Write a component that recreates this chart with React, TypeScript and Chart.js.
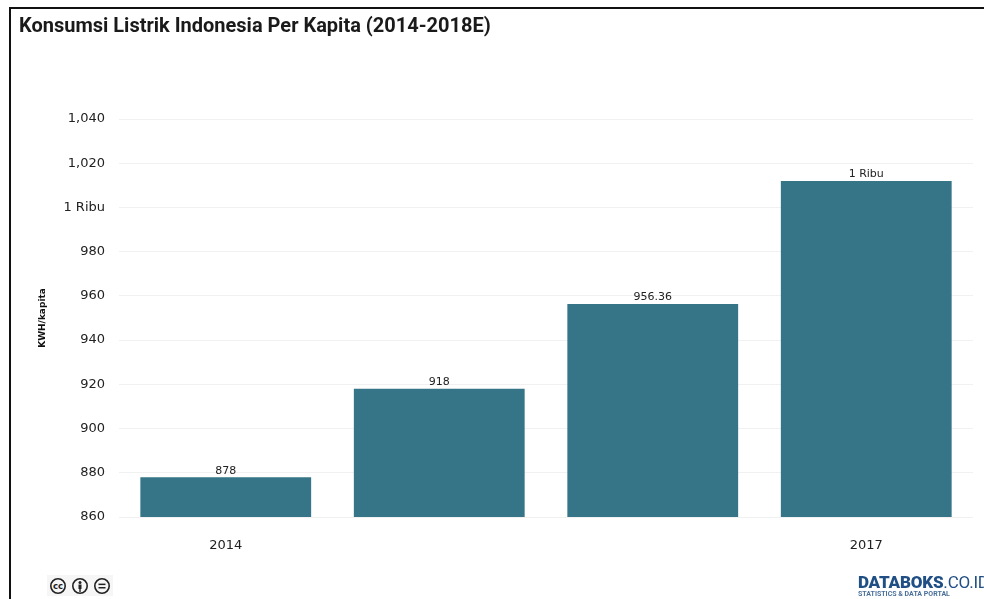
import React, { useEffect, useRef } from "react";
import { Chart, registerables } from "chart.js";

Chart.register(...registerables);

const chartTitle = "Konsumsi Listrik Indonesia Per Kapita (2014-2018E)";
const axisTitle = "KWH/kapita";
const categories = ["2014", "2015", "2016", "2017"];
const visibleCategories = ["2014", "2017"];
const consumption = [878, 918, 956.36, 1012];
const valueLabels = ["878", "918", "956.36", "1 Ribu"];
const yTickValues = [860, 880, 900, 920, 940, 960, 980, 1000, 1020, 1040];
const yTickLabels = ["860", "880", "900", "920", "940", "960", "980", "1 Ribu", "1,020", "1,040"];

const BODY_FONT = "'DejaVu Sans', sans-serif";

// Writes the formatted value just above each bar.
const barValueLabels = {
  id: "barValueLabels",
  afterDatasetsDraw(chart: Chart) {
    const { ctx } = chart;
    ctx.save();
    ctx.font = `11px ${BODY_FONT}`;
    ctx.fillStyle = "#222222";
    ctx.textAlign = "center";
    ctx.textBaseline = "bottom";
    chart.getDatasetMeta(0).data.forEach((bar, i) => {
      ctx.fillText(valueLabels[i], bar.x, bar.y - 1);
    });
    ctx.restore();
  },
};

function CreativeCommonsBadge() {
  const glyph = { fill: "none", stroke: "#222", strokeWidth: 1.6 };
  return (
    <svg
      width={66}
      height={21}
      style={{ position: "absolute", left: 47, top: 575, background: "#f6f6f6" }}
    >
      <circle cx={11} cy={11} r={7.2} {...glyph} />
      <text x={11} y={14} textAnchor="middle" fontSize={8.5} fontWeight={700} fontFamily={BODY_FONT} fill="#222">
        cc
      </text>
      <circle cx={33} cy={11} r={7.2} {...glyph} />
      <circle cx={33} cy={7.5} r={1.5} fill="#222" />
      <rect x={31.5} y={9.5} width={3} height={4.5} fill="#222" />
      <rect x={32.3} y={13.5} width={1.4} height={3.5} fill="#222" />
      <circle cx={55} cy={11} r={7.2} {...glyph} />
      <rect x={51.5} y={8.6} width={7} height={1.5} fill="#222" />
      <rect x={51.5} y={12} width={7} height={1.5} fill="#222" />
    </svg>
  );
}

function PublisherMark() {
  return (
    <div style={{ position: "absolute", left: 858, top: 573, width: 126, height: 26, overflow: "hidden", whiteSpace: "nowrap" }}>
      <div style={{ fontFamily: "Roboto, sans-serif", fontSize: 17, lineHeight: "18px", color: "#1f4f85", letterSpacing: -0.2 }}>
        <span style={{ fontWeight: 900 }}>DATABOKS</span>
        <span style={{ fontWeight: 400 }}>.CO.ID</span>
      </div>
      <div style={{ fontFamily: "Roboto, sans-serif", fontSize: 7, lineHeight: "7px", fontWeight: 700, color: "#4a6f9a" }}>
        STATISTICS &amp; DATA PORTAL
      </div>
    </div>
  );
}

export default function App() {
  const canvasRef = useRef<HTMLCanvasElement | null>(null);

  useEffect(() => {
    document.body.style.margin = "0";
    const chart = new Chart(canvasRef.current!, {
      type: "bar",
      data: {
        labels: categories,
        datasets: [
          {
            data: consumption,
            backgroundColor: "#357587",
            borderWidth: 0,
            barPercentage: 0.8,
            categoryPercentage: 1,
          },
        ],
      },
      options: {
        responsive: false,
        animation: false,
        layout: { padding: { left: 19, right: 11, top: 8, bottom: 0 } },
        plugins: {
          legend: { display: false },
          tooltip: { enabled: false },
          title: {
            display: true,
            text: chartTitle,
            align: "start",
            color: "#1a1a1a",
            font: { family: "Roboto, sans-serif", size: 20, weight: "bold", lineHeight: 1.2 },
            padding: { top: 7, bottom: 80 },
          },
        },
        scales: {
          x: {
            grid: { display: false },
            border: { display: false },
            afterFit(scale) {
              scale.height = 82;
            },
            ticks: {
              autoSkip: false,
              maxRotation: 0,
              padding: 13,
              color: "#222222",
              font: { family: BODY_FONT, size: 13 },
              callback(_value, index) {
                const name = categories[index];
                return visibleCategories.includes(name) ? name : "";
              },
            },
          },
          y: {
            min: 860,
            max: 1040,
            afterFit(scale) {
              scale.width = 100;
            },
            afterBuildTicks(scale) {
              scale.ticks = yTickValues.map((value) => ({ value }));
            },
            grid: { color: "#f1f1f1", lineWidth: 1, drawTicks: false },
            border: { display: false },
            ticks: {
              padding: 14,
              color: "#222222",
              font: { family: BODY_FONT, size: 13 },
              callback(value) {
                return yTickLabels[yTickValues.indexOf(Number(value))];
              },
            },
            title: {
              display: true,
              text: axisTitle,
              color: "#111111",
              font: { family: "'DejaVu Sans', sans-serif", size: 9, weight: "bold" },
              padding: { top: 18, bottom: 0 },
            },
          },
        },
      },
      plugins: [barValueLabels],
    });
    return () => chart.destroy();
  }, []);

  return (
    <div style={{ position: "relative", width: 984, height: 599, overflow: "hidden", background: "#fff" }}>
      <canvas ref={canvasRef} width={984} height={599} style={{ display: "block" }} />
      <div style={{ position: "absolute", left: 9, top: 7, right: -4, bottom: -4, border: "2px solid #111" }} />
      <CreativeCommonsBadge />
      <PublisherMark />
    </div>
  );
}
